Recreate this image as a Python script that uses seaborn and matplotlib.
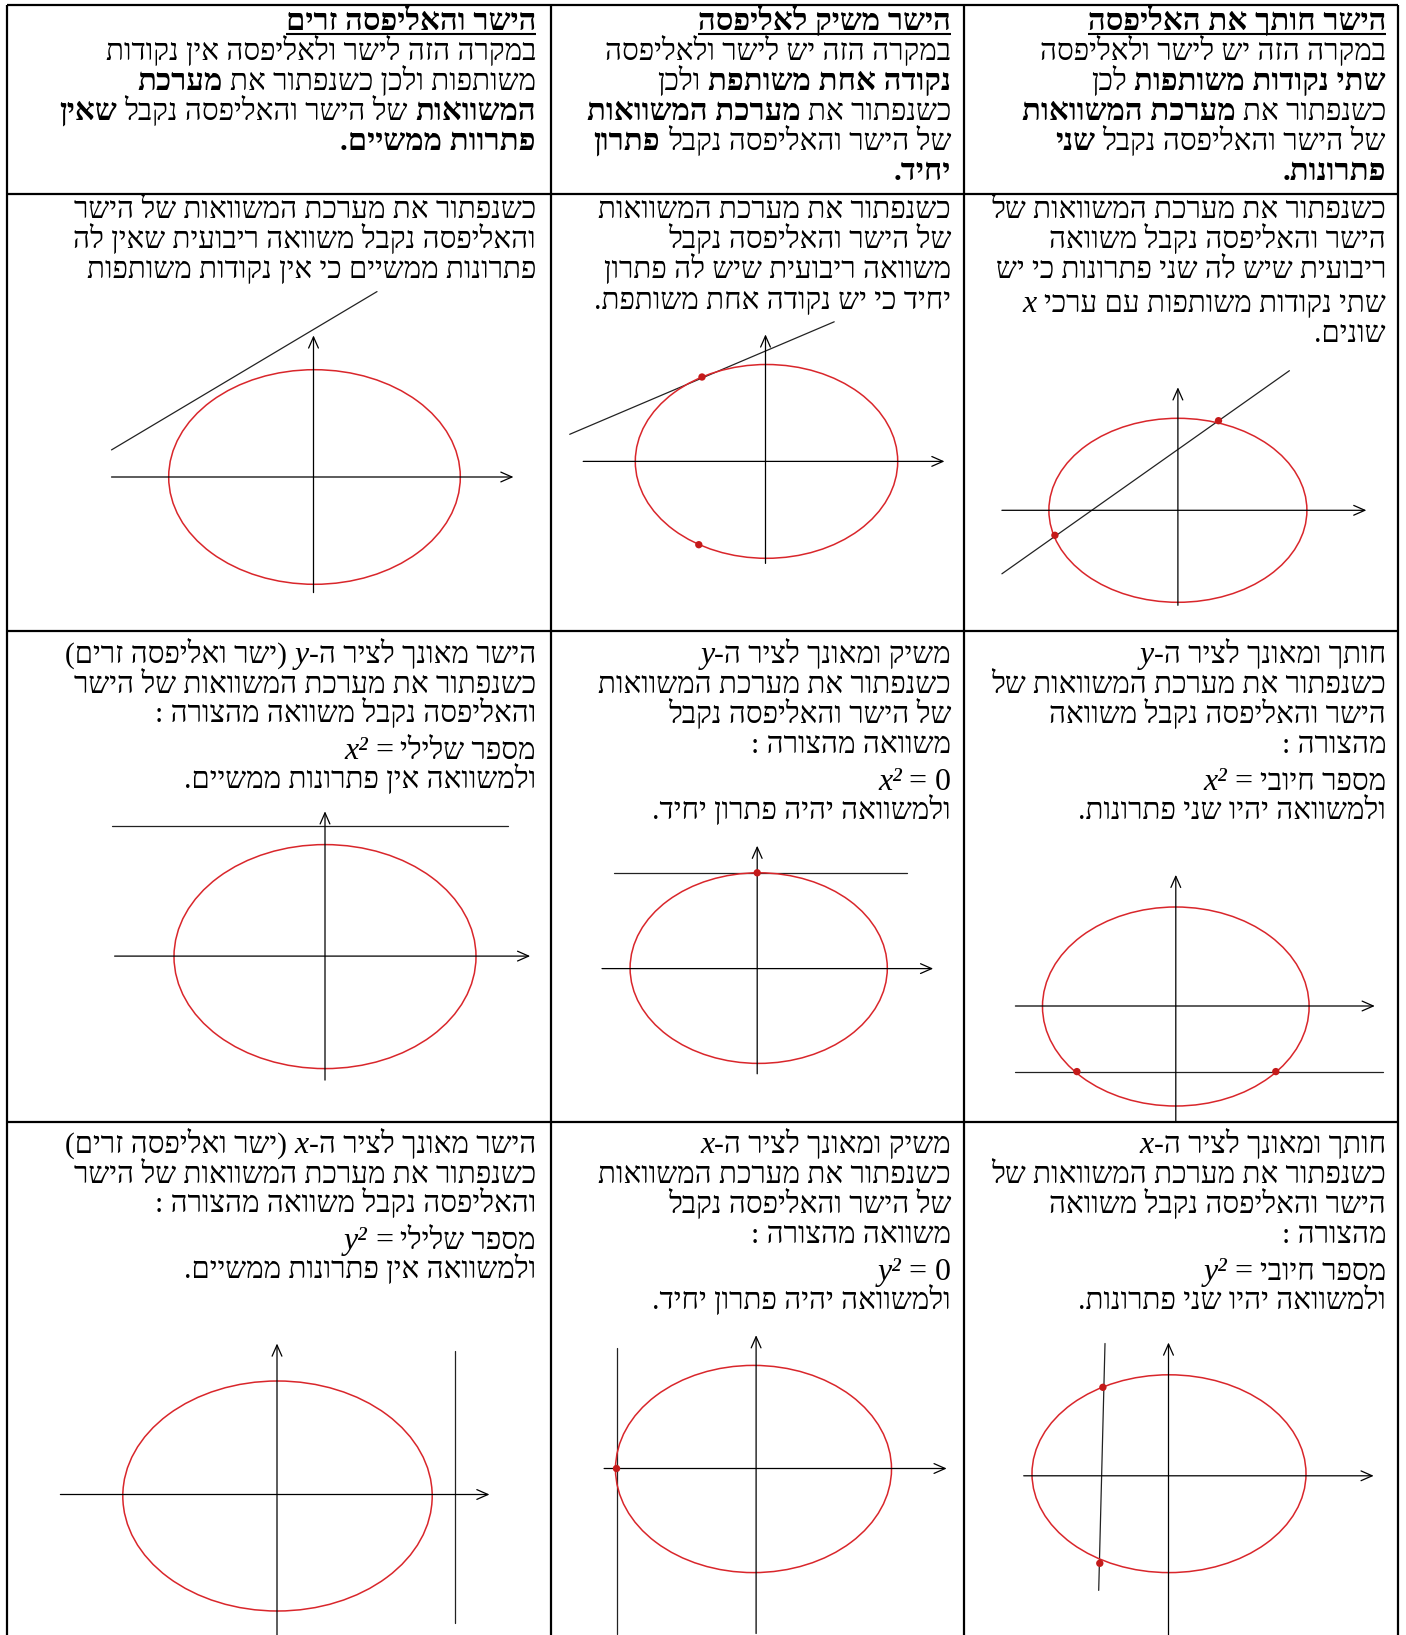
import numpy as np
import matplotlib
matplotlib.use("Agg")
import matplotlib.pyplot as plt
from matplotlib.patches import Ellipse
import seaborn as sns

sns.set_theme(style="white")
plt.rcParams["font.family"] = ["Liberation Serif", "DejaVu Sans"]

# ---------------- DATA ----------------
# panel order: row2 (R, M, L), row3 (R, M, L), row4 (R, M, L); local units = px, origin at axes crossing
ell_cx = [0, 1, 1, 0, 1.5, 0, 0.5, -2.6, 0.5]
ell_cy = [0, 0, 0, -0.5, 0.5, -0.5, 2.1, -0.5, -1.5]
ell_a = [129, 131.2, 145.8, 133.3, 128.6, 151, 137, 138, 154.7]
ell_b = [92, 96.9, 107.3, 99.5, 95.3, 112, 98.9, 103.6, 115]
xaxis_from = [-176, -182.3, -202, -160.4, -155.2, -210.4, -144.8, -152, -216.6]
xaxis_to = [188.5, 179, 200, 199, 176, 205.2, 205.2, 190.6, 212.5]
yaxis_from = [-95, -102, -115.6, -115.6, -105.2, -124, -165, -165, -165]
yaxis_to = [123, 127, 141.6, 131.2, 122.9, 144.8, 133.3, 133.3, 151]
line_x0 = [-176, -195.8, -202, -160.4, -143.7, -213.5, -63.5, -139.6, 178]
line_y0 = [-63.5, 27.1, 27.1, -65.6, 95.8, 130.2, 132.3, 120.8, 143.7]
line_x1 = [111.5, 68.7, 63.5, 207.3, 150, 183.3, -69.8, -139.6, 178]
line_y1 = [139.6, 139.6, 185.4, -65.6, 95.8, 130.2, -114.6, -165, -128.1]
pts_x = [[40.6, -123], [-63.5, -66.7], [], [-98.9, 100], [0], [], [-65.6, -68.7], [-139.6], []]
pts_y = [[89.6, -25], [84.4, -83.3], [], [-65.6, -65.6], [95.8], [], [88.5, -87.5], [0], []]

# text: segments (text, kind) in logical (right-to-left) order
# kind r=regular Hebrew, b=bold Hebrew, i=italic Latin variable, l=left-to-right plain
head_R = [[("הישר חותך את האליפסה", "b")],
          [("במקרה הזה יש לישר ולאליפסה", "r")],
          [("שתי נקודות משותפות", "b"), (" לכן", "r")],
          [("כשנפתור את ", "r"), ("מערכת המשוואות", "b")],
          [("של הישר והאליפסה נקבל ", "r"), ("שני", "b")],
          [("פתרונות.", "b")]]
head_M = [[("הישר משיק לאליפסה", "b")],
          [("במקרה הזה יש לישר ולאליפסה", "r")],
          [("נקודה אחת משותפת", "b"), (" ולכן", "r")],
          [("כשנפתור את ", "r"), ("מערכת המשוואות", "b")],
          [("של הישר והאליפסה נקבל ", "r"), ("פתרון", "b")],
          [("יחיד.", "b")]]
head_L = [[("הישר והאליפסה זרים", "b")],
          [("במקרה הזה לישר ולאליפסה אין נקודות", "r")],
          [("משותפות ולכן כשנפתור את ", "r"), ("מערכת", "b")],
          [("המשוואות", "b"), (" של הישר והאליפסה נקבל ", "r"), ("שאין", "b")],
          [("פתרוות ממשיים.", "b")]]

r2_R = [[("כשנפתור את מערכת המשוואות של", "r")],
        [("הישר והאליפסה נקבל משוואה", "r")],
        [("ריבועית שיש לה שני פתרונות כי יש", "r")],
        [("שתי נקודות משותפות עם ערכי ", "r"), ("x", "i")],
        [("שונים.", "r")]]
r2_M = [[("כשנפתור את מערכת המשוואות", "r")],
        [("של הישר והאליפסה נקבל", "r")],
        [("משוואה ריבועית שיש לה פתרון", "r")],
        [("יחיד כי יש נקודה אחת משותפת.", "r")]]
r2_L = [[("כשנפתור את מערכת המשוואות של הישר", "r")],
        [("והאליפסה נקבל משוואה ריבועית שאין לה", "r")],
        [("פתרונות ממשיים כי אין נקודות משותפות", "r")]]

r3_R = [[("חותך ומאונך לציר ה-", "r"), ("y", "i")],
        [("כשנפתור את מערכת המשוואות של", "r")],
        [("הישר והאליפסה נקבל משוואה", "r")],
        [("מהצורה :", "r")],
        [("מספר חיובי ", "r"), ("= ", "l"), ("x²", "i")],
        [("ולמשוואה יהיו שני פתרונות.", "r")]]
r3_M = [[("משיק ומאונך לציר ה-", "r"), ("y", "i")],
        [("כשנפתור את מערכת המשוואות", "r")],
        [("של הישר והאליפסה נקבל", "r")],
        [("משוואה מהצורה :", "r")],
        [("= 0 ", "l"), ("x²", "i")],
        [("ולמשוואה יהיה פתרון יחיד.", "r")]]
r3_L = [[("הישר מאונך לציר ה-", "r"), ("y", "i"), (" (ישר ואליפסה זרים)", "r")],
        [("כשנפתור את מערכת המשוואות של הישר", "r")],
        [("והאליפסה נקבל משוואה מהצורה :", "r")],
        [("מספר שלילי ", "r"), ("= ", "l"), ("x²", "i")],
        [("ולמשוואה אין פתרונות ממשיים.", "r")]]

r4_R = [[("חותך ומאונך לציר ה-", "r"), ("x", "i")],
        [("כשנפתור את מערכת המשוואות של", "r")],
        [("הישר והאליפסה נקבל משוואה", "r")],
        [("מהצורה :", "r")],
        [("מספר חיובי ", "r"), ("= ", "l"), ("y²", "i")],
        [("ולמשוואה יהיו שני פתרונות.", "r")]]
r4_M = [[("משיק ומאונך לציר ה-", "r"), ("x", "i")],
        [("כשנפתור את מערכת המשוואות", "r")],
        [("של הישר והאליפסה נקבל", "r")],
        [("משוואה מהצורה :", "r")],
        [("= 0 ", "l"), ("y²", "i")],
        [("ולמשוואה יהיה פתרון יחיד.", "r")]]
r4_L = [[("הישר מאונך לציר ה-", "r"), ("x", "i"), (" (ישר ואליפסה זרים)", "r")],
        [("כשנפתור את מערכת המשוואות של הישר", "r")],
        [("והאליפסה נקבל משוואה מהצורה :", "r")],
        [("מספר שלילי ", "r"), ("= ", "l"), ("y²", "i")],
        [("ולמשוואה אין פתרונות ממשיים.", "r")]]

# ---------------- LAYOUT ----------------
W, H = 1406, 1635
RED = "#d9262b"
DOT = "#c41a1a"

col_x = [7.3, 551, 964.4, 1397.7]          # vertical grid lines
row_y = [5.2, 193.7, 631.1, 1121.7, H]     # horizontal grid lines
text_right = {"R": 1386, "M": 951, "L": 536}

fig = plt.figure(figsize=(W / 100, H / 100), dpi=100)
ax = fig.add_axes([0, 0, 1, 1])
ax.set_xlim(0, W)
ax.set_ylim(H, 0)
ax.axis("off")
renderer = fig.canvas.get_renderer()

ax.vlines(col_x, row_y[0], H, colors="black", lw=1.6)
ax.hlines(row_y[:4], col_x[0], col_x[-1], colors="black", lw=1.6)

MIRROR = str.maketrans("()", ")(")


def visual(s):
    return s[::-1].translate(MIRROR)


def measure(s, **kw):
    t = ax.text(0, 0, s, **kw)
    w = t.get_window_extent(renderer).width
    t.remove()
    return w


# size calibration against widths measured on the reference (px)
ref_reg = measure(visual("כשנפתור את מערכת המשוואות של"), fontsize=20)
FS = 20 * 395.0 / ref_reg
ref_bold = (measure(visual("שתי נקודות משותפות"), fontsize=20, fontweight="bold")
            + measure(visual("מערכת המשוואות"), fontsize=20, fontweight="bold"))
FS_B = 20 * 464.0 / ref_bold
FS_I = FS * 1.08
SP = measure("א א", fontsize=FS) - measure("אא", fontsize=FS)


def put_line(xr, y, segs, underline=False):
    x = xr
    for txt, kind in segs:
        lead = len(txt) - len(txt.lstrip(" "))
        trail = len(txt) - len(txt.rstrip(" "))
        core = txt.strip(" ")
        x -= lead * SP
        style = "normal"
        if kind == "i":
            s, fw, fs, style = core, "normal", FS_I, "italic"
        elif kind == "l":
            s, fw, fs = core, "normal", FS_I
        elif kind == "b":
            s, fw, fs = visual(core), "bold", FS_B
        else:
            s, fw, fs = visual(core), "normal", FS
        t = ax.text(x, y, s, ha="right", va="baseline", fontsize=fs,
                    fontweight=fw, fontstyle=style, color="black")
        w = t.get_window_extent(renderer).width
        if underline:
            ax.hlines(y + 4, x - w, x, colors="black", lw=1.5)
        x -= w
        x -= trail * SP


def put_block(col, lines, baselines, head=False):
    for i, (segs, yb) in enumerate(zip(lines, baselines)):
        put_line(text_right[col], yb, segs, underline=(head and i == 0))


hb = [30, 60, 90, 120, 150, 180]
put_block("R", head_R, hb, head=True)
put_block("M", head_M, hb, head=True)
put_block("L", head_L, hb, head=True)
put_block("R", r2_R, [218, 248, 278, 312, 342])
put_block("M", r2_M, [218, 248, 278, 309])
put_block("L", r2_L, [218, 248, 278])
b3 = [663, 693, 723, 753, 790, 819]
b3L = [663, 693, 722, 759, 788]
b4 = [1153, 1183, 1213, 1243, 1280, 1309]
b4L = [1153, 1183, 1212, 1249, 1278]
put_block("R", r3_R, b3)
put_block("M", r3_M, b3)
put_block("L", r3_L, b3L)
put_block("R", r4_R, b4)
put_block("M", r4_M, b4)
put_block("L", r4_L, b4L)

# diagrams
origins = [(1177.9, 510.3), (765.5, 461.4), (313.5, 477.0),
           (1175.8, 1006.0), (757.2, 968.6), (325.0, 956.1),
           (1168.5, 1475.8), (756.1, 1468.5), (277.0, 1494.5)]
cells_x = [(col_x[2], col_x[3]), (col_x[1], col_x[2]), (col_x[0], col_x[1])]
for i in range(9):
    r, c = divmod(i, 3)
    cl, cr = cells_x[c]
    ct, cb = row_y[r + 1], row_y[r + 2]
    ox, oy = origins[i]
    d = fig.add_axes([cl / W, 1 - cb / H, (cr - cl) / W, (cb - ct) / H])
    d.patch.set_alpha(0)
    d.add_patch(Ellipse((ell_cx[i], ell_cy[i]), 2 * ell_a[i], 2 * ell_b[i],
                        fill=False, ec=RED, lw=1.1, zorder=3))
    arrow = dict(arrowstyle="->,head_length=0.5,head_width=0.22", color="black",
                 lw=0.9, shrinkA=0, shrinkB=0, mutation_scale=16)
    d.annotate("", xy=(xaxis_to[i], 0), xytext=(xaxis_from[i], 0), arrowprops=arrow)
    d.annotate("", xy=(0, yaxis_to[i]), xytext=(0, yaxis_from[i]), arrowprops=arrow)
    sns.lineplot(x=[line_x0[i], line_x1[i]], y=[line_y0[i], line_y1[i]], sort=False,
                 estimator=None, color="#222222", lw=0.9, ax=d)
    if pts_x[i]:
        sns.scatterplot(x=pts_x[i], y=pts_y[i], color=DOT, s=28, edgecolor="none",
                        ax=d, zorder=5)
    d.set_xlim(cl - ox, cr - ox)
    d.set_ylim(oy - cb, oy - ct)
    d.axis("off")

fig.savefig("out.png", dpi=100)
